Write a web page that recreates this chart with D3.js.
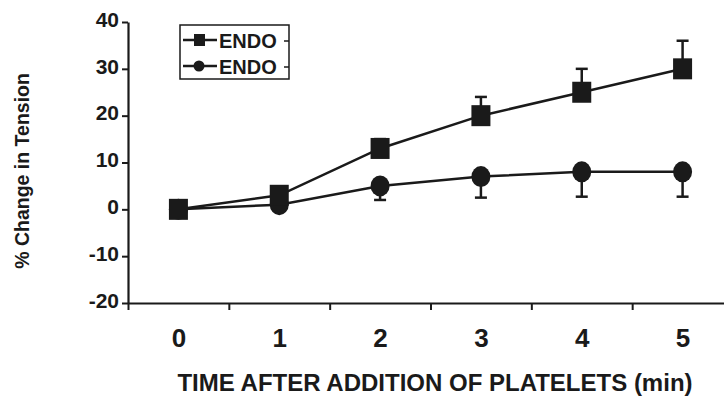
<!DOCTYPE html>
<html>
<head>
<meta charset="utf-8">
<script src="https://cdn.jsdelivr.net/npm/d3@7"></script>
<style>
  body { margin: 0; background: #fff; }
  svg { display: block; }
  text { font-family: "Liberation Sans", Arial, sans-serif; font-weight: bold; fill: #1a1a1a; }
</style>
</head>
<body>
<script>
// data
var times = [0, 1, 2, 3, 4, 5];
var squareVals = [0, 3, 13, 20, 25, 30];
var squareErrUp = [0, 0, 2, 4, 5, 6];
var circleVals = [0, 1, 5, 7, 8, 8];
var circleErrDown = [0, 0, 3, 4.5, 5.3, 5.3];
var yTicks = [-20, -10, 0, 10, 20, 30, 40];
var xTickMarks = [-0.5, 0.5, 1.5, 2.5, 3.5, 4.5];
var legendLabels = ["ENDO", "ENDO"];

var w = 724, h = 398;
var ink = "#1a1a1a";

var svg = d3.select("body").append("svg")
    .attr("width", w)
    .attr("height", h);

var x = d3.scaleLinear().domain([-0.5, 5.5]).range([128, 733]);
var y = d3.scaleLinear().domain([-20, 40]).range([303, 22]);

// y axis
var yAxis = svg.append("g")
    .attr("transform", "translate(128,0)")
    .call(d3.axisLeft(y).tickValues(yTicks).tickSize(6).tickPadding(3).tickSizeOuter(0)
        .tickFormat(function (d) { return String(d); }));
yAxis.select(".domain").attr("stroke", ink).attr("stroke-width", 2.2);
yAxis.selectAll(".tick line").attr("stroke", ink).attr("stroke-width", 2);
yAxis.selectAll(".tick text")
    .attr("font-size", "21px")
    .attr("dy", "0.2em")
    .attr("fill", ink);

// x axis with tick marks between the labels
var xAxis = svg.append("g")
    .attr("transform", "translate(0,303)")
    .call(d3.axisBottom(x).tickValues(xTickMarks).tickSize(7).tickFormat("").tickSizeOuter(0));
xAxis.select(".domain").attr("stroke", ink).attr("stroke-width", 2.2);
xAxis.selectAll(".tick line").attr("stroke", ink).attr("stroke-width", 2);

var xLabels = svg.append("g")
    .attr("transform", "translate(0,303)")
    .call(d3.axisBottom(x).tickValues(times).tickSize(0).tickPadding(25).tickFormat(d3.format("d")));
xLabels.select(".domain").remove();
xLabels.selectAll(".tick text")
    .attr("y", 44)
    .attr("dy", 0)
    .attr("font-size", "26px")
    .attr("fill", ink);

// axis titles
svg.append("text")
    .attr("x", 435)
    .attr("y", 391)
    .attr("text-anchor", "middle")
    .attr("font-size", "24px")
    .text("TIME AFTER ADDITION OF PLATELETS (min)");

svg.append("text")
    .attr("transform", "translate(29,171) rotate(-90)")
    .attr("text-anchor", "middle")
    .attr("font-size", "19.5px")
    .text("% Change in Tension");

var line = d3.line()
    .x(function (d, i) { return x(times[i]); })
    .y(function (d) { return y(d); });

// error bars
function errorBars(vals, errs, dir) {
    var g = svg.append("g");
    vals.forEach(function (v, i) {
        if (!errs[i]) return;
        var end = v + dir * errs[i];
        g.append("line")
            .attr("x1", x(times[i])).attr("x2", x(times[i]))
            .attr("y1", y(v)).attr("y2", y(end))
            .attr("stroke", ink).attr("stroke-width", 2.5);
        g.append("line")
            .attr("x1", x(times[i]) - 6).attr("x2", x(times[i]) + 6)
            .attr("y1", y(end)).attr("y2", y(end))
            .attr("stroke", ink).attr("stroke-width", 2.5);
    });
}
errorBars(squareVals, squareErrUp, 1);
errorBars(circleVals, circleErrDown, -1);

// lines
svg.append("path")
    .datum(circleVals)
    .attr("d", line)
    .attr("fill", "none")
    .attr("stroke", ink)
    .attr("stroke-width", 2.5);
svg.append("path")
    .datum(squareVals)
    .attr("d", line)
    .attr("fill", "none")
    .attr("stroke", ink)
    .attr("stroke-width", 2.5);

// markers
svg.append("g").selectAll("ellipse")
    .data(circleVals)
    .enter()
    .append("ellipse")
    .attr("cx", function (d, i) { return x(times[i]); })
    .attr("cy", function (d) { return y(d); })
    .attr("rx", 9.5)
    .attr("ry", 10.5)
    .attr("fill", ink);

svg.append("g").selectAll("rect")
    .data(squareVals)
    .enter()
    .append("rect")
    .attr("x", function (d, i) { return x(times[i]) - 9.5; })
    .attr("y", function (d) { return y(d) - 10.5; })
    .attr("width", 19)
    .attr("height", 21)
    .attr("fill", ink);

// legend
var legend = svg.append("g");
legend.append("rect")
    .attr("x", 180).attr("y", 25)
    .attr("width", 109).attr("height", 54)
    .attr("fill", "none")
    .attr("stroke", ink)
    .attr("stroke-width", 1.5);

legendLabels.forEach(function (label, i) {
    var ly = 40 + i * 26;
    legend.append("line")
        .attr("x1", 183).attr("x2", 217)
        .attr("y1", ly).attr("y2", ly)
        .attr("stroke", ink).attr("stroke-width", 2.5);
    if (i === 0) {
        legend.append("rect")
            .attr("x", 194).attr("y", ly - 6)
            .attr("width", 11).attr("height", 12)
            .attr("fill", ink);
    } else {
        legend.append("circle")
            .attr("cx", 199).attr("cy", ly)
            .attr("r", 5.5)
            .attr("fill", ink);
    }
    legend.append("text")
        .attr("x", 219).attr("y", ly + 7.5)
        .attr("font-size", "20px")
        .text(label);
    legend.append("line")
        .attr("x1", 284).attr("x2", 289)
        .attr("y1", ly + 1).attr("y2", ly + 1)
        .attr("stroke", ink).attr("stroke-width", 1.5);
});
</script>
</body>
</html>
